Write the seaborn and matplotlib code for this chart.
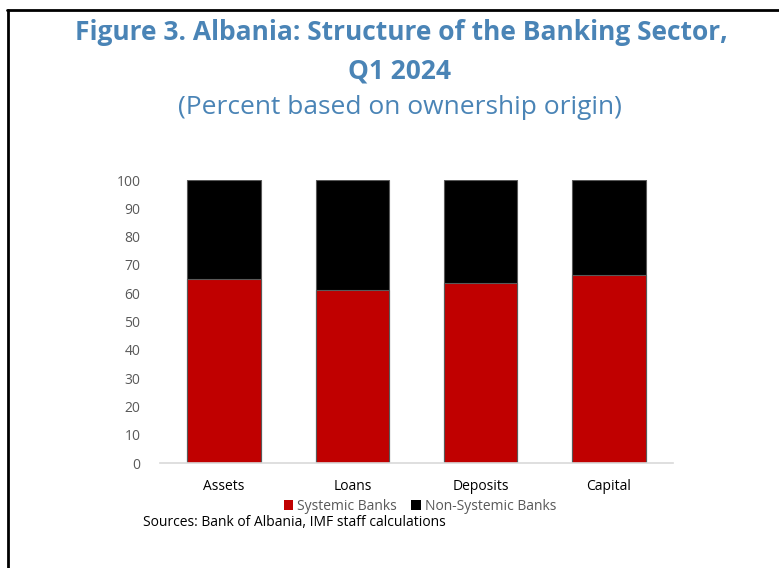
import matplotlib
matplotlib.use("Agg")
import matplotlib.pyplot as plt
import seaborn as sns
import pandas as pd
from matplotlib.lines import Line2D
from matplotlib.patches import Patch

# Shares of banking-sector aggregates by ownership origin, Q1 2024 (percent)
categories = ["Assets", "Loans", "Deposits", "Capital"]
systemic = [65.2, 61.1, 63.5, 66.6]
non_systemic = [100 - v for v in systemic]
y_ticks = [0, 10, 20, 30, 40, 50, 60, 70, 80, 90, 100]

sns.set_theme(style="white")
plt.rcParams["font.family"] = ["Open Sans", "DejaVu Sans"]

W, H = 779, 568
fig = plt.figure(figsize=(W / 100, H / 100), dpi=100)
ax = fig.add_axes([160 / W, 1 - 463.3 / H, (673 - 160) / W, (463.3 - 180) / H])

df = pd.DataFrame({"category": categories, "total": [s + n for s, n in zip(systemic, non_systemic)],
                   "systemic": systemic})

# Stacked bars: full height in black, systemic share in red on top of it
sns.barplot(data=df, x="category", y="total", color="#000000", width=0.574,
            edgecolor="#595959", linewidth=0.8, saturation=1, ax=ax)
sns.barplot(data=df, x="category", y="systemic", color="#C00000", width=0.574,
            edgecolor="#595959", linewidth=0.8, saturation=1, ax=ax)

ax.set_xlim(-0.5, 3.5)
ax.set_ylim(0, 100)
ax.set_yticks(y_ticks)
ax.set_xlabel("")
ax.set_ylabel("")
for s in ["top", "right", "left"]:
    ax.spines[s].set_visible(False)
ax.spines["bottom"].set_color("#D9D9D9")
ax.spines["bottom"].set_linewidth(1.2)
ax.tick_params(axis="y", labelsize=10, labelcolor="#595959", length=0, pad=14)
ax.tick_params(axis="x", labelsize=10, labelcolor="#000000", length=0, pad=11)

# Titles
blue = "#4A84B6"
fig.text(401 / W, 1 - 33 / H, "Figure 3. Albania: Structure of the Banking Sector,",
         ha="center", va="center", fontsize=19, fontweight="bold", color=blue)
fig.text(400 / W, 1 - 71 / H, "Q1 2024", ha="center", va="center",
         fontsize=19, fontweight="bold", color=blue)
fig.text(400 / W, 1 - 108 / H, "(Percent based on ownership origin)", ha="center",
         va="center", fontsize=19, color=blue)

# Legend
handles = [Patch(facecolor="#C00000", edgecolor="none", label="Systemic Banks"),
           Patch(facecolor="#000000", edgecolor="none", label="Non-Systemic Banks")]
leg = fig.legend(handles=handles, loc="center", bbox_to_anchor=(420 / W, 1 - 506 / H),
                 ncol=2, frameon=False, fontsize=10, handlelength=0.7, handleheight=0.7,
                 handletextpad=0.3, columnspacing=1.0, borderaxespad=0)
for t in leg.get_texts():
    t.set_color("#595959")

# Source note
fig.text(143 / W, 1 - 522 / H, "Sources: Bank of Albania, IMF staff calculations",
         ha="left", va="center", fontsize=10, color="#000000")

# Frame lines around the figure panel
fig.add_artist(Line2D([8 / W, 8 / W], [0, 1 - 10 / H], color="black", lw=2,
                      transform=fig.transFigure))
fig.add_artist(Line2D([7 / W, 1], [1 - 10 / H, 1 - 10 / H], color="black", lw=2,
                      transform=fig.transFigure))

fig.savefig("out.png", dpi=100)
